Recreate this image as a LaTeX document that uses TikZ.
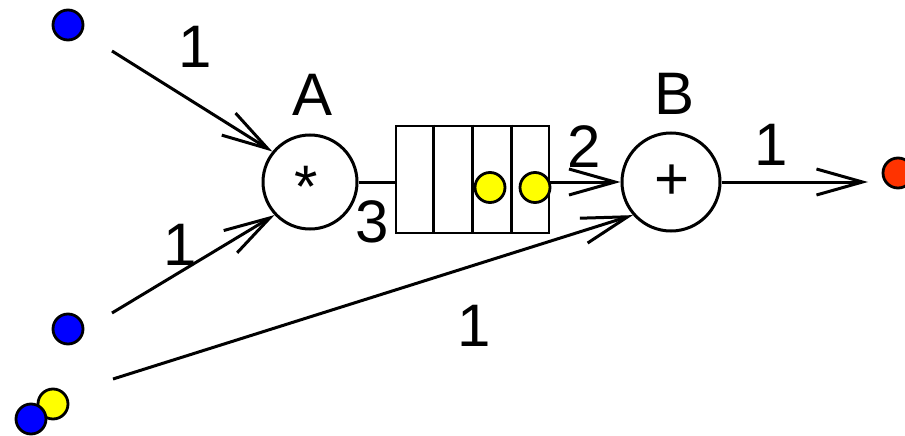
\documentclass[tikz,border=0pt]{standalone}
\usepackage{fontspec}
\setmainfont{Liberation Sans}
\usetikzlibrary{arrows.meta,calc}
\definecolor{dotblue}{RGB}{0,0,255}
\definecolor{dotyellow}{RGB}{255,255,0}
\definecolor{dotred}{RGB}{255,51,0}
\begin{document}
\begin{tikzpicture}[x=1pt,y=-1pt,
  lbl/.style={font=\fontsize{60}{72}\selectfont, anchor=base, inner sep=0pt},
  place/.style={circle, draw, line width=3pt, inner sep=0pt},
  token/.style={circle, draw, line width=2.8pt, minimum size=30pt, inner sep=0pt},
  queue/.style={draw, line width=2.6pt, minimum width=153pt, minimum height=107pt, inner sep=0pt},
  edge/.style={line width=3pt},
  arc/.style={line width=3pt, -{Straight Barb[length=46pt,width=26pt]}}
]
\useasboundingbox (0,0) rectangle (905,436);

% transitions
\node[place, minimum size=94pt] (A) at (310,182) {};
\node[place, minimum size=98pt] (B) at (671,182) {};
\node[lbl] (Astar) at (306,207) {*};
\node[lbl] (Bplus) at (672,199) {+};
\node[lbl] (Alab) at (312.5,115) {A};
\node[lbl] (Blab) at (675,114) {B};

% queue
\node[queue] (Q) at (472.5,179.5) {};
\draw[line width=2.6pt] ($(Q.north west)!0.25!(Q.north east)$) -- ($(Q.south west)!0.25!(Q.south east)$);
\draw[line width=2.6pt] ($(Q.north west)!0.5!(Q.north east)$) -- ($(Q.south west)!0.5!(Q.south east)$);
\draw[line width=2.6pt] ($(Q.north west)!0.75!(Q.north east)$) -- ($(Q.south west)!0.75!(Q.south east)$);
\node[token, fill=dotyellow] (q1) at (490,187.5) {};
\node[token, fill=dotyellow] (q2) at (535,187.5) {};

% sources and sink
\node[token, fill=dotblue] (s1) at (68,25) {};
\node[token, fill=dotblue] (s2) at (68,329) {};
\node[token, fill=dotyellow] (s3y) at (53,404) {};
\node[token, fill=dotblue] (s3b) at (31,419) {};
\node[token, fill=dotred] (out) at (898,173) {};

\coordinate (p1) at (112,51);
\coordinate (p2) at (112,313);
\coordinate (p3) at (113,379);
\coordinate (pout) at (868,182);
\coordinate (qin) at (396,182);
\coordinate (qout) at (549,182);

% connectors
\draw[arc] (p1) -- (A.141);
\draw[arc] (p2) -- (A.223);
\draw[arc] (p3) -- (B.221);
\draw[edge] (A) -- (qin);
\draw[arc] (qout) -- (B);
\draw[arc] (B) -- (pout);

% weights
\node[lbl] (w1) at (195,68) {1};
\node[lbl] (w2) at (180,265) {1};
\node[lbl] (w3) at (474,346) {1};
\node[lbl] (w4) at (771,165) {1};
\node[lbl] (w5) at (584,167) {2};
\node[lbl] (w6) at (372,242) {3};
\end{tikzpicture}
\end{document}
